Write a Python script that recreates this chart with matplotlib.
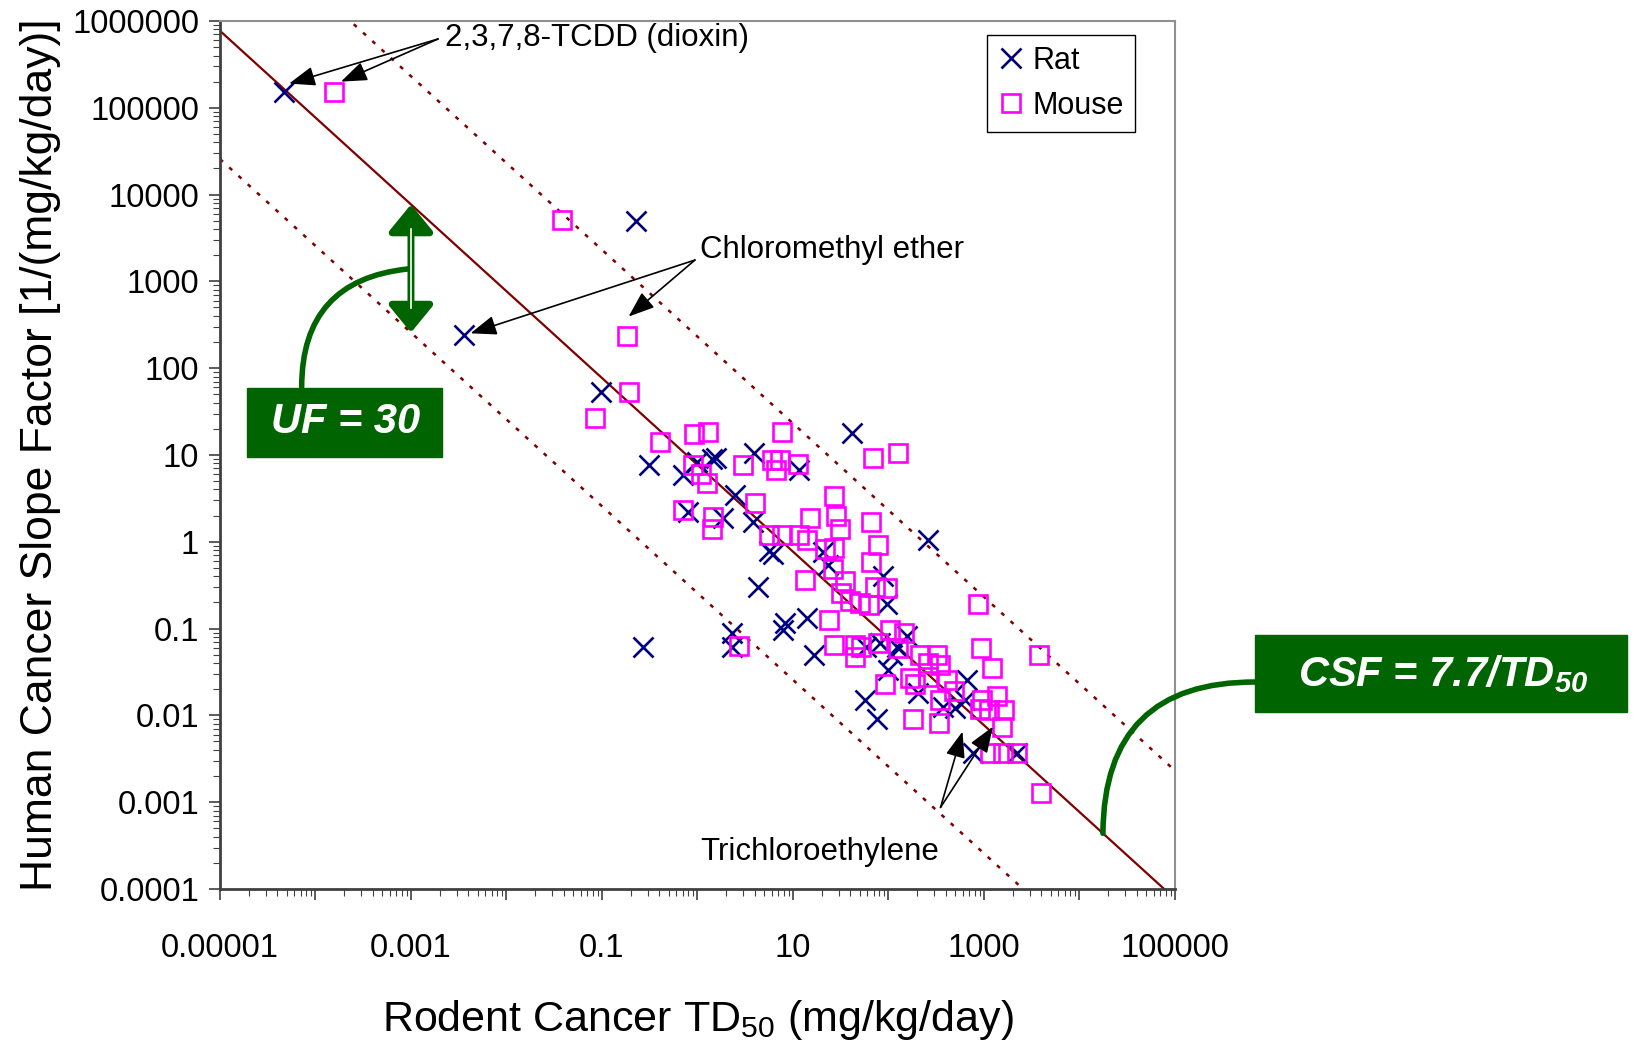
import numpy as np
import matplotlib
matplotlib.use('Agg')
import matplotlib.pyplot as plt
from matplotlib.patches import Rectangle
from matplotlib.ticker import LogLocator, NullFormatter

plt.rcParams['font.family'] = ['Liberation Sans', 'DejaVu Sans']
plt.rcParams['mathtext.fontset'] = 'custom'
plt.rcParams['mathtext.rm'] = 'Liberation Sans:bold:italic'
plt.rcParams['mathtext.sf'] = 'Liberation Sans'

# rodent TD50 (mg/kg/day) and human CSF (1/(mg/kg/day))
rat_td50 = [4.7e-5, 0.227, 0.0036, 0.097, 42, 260, 0.267, 0.313, 0.71, 0.98,
            1.41, 1.58, 3.9, 11.6, 2.5, 0.80, 1.83, 3.8, 5.6, 6.2,
            20.7, 4.3, 8.2, 7.8, 2.3, 2.3, 23.4, 87, 97, 14.1,
            16.6, 57, 75, 58, 81, 108, 155, 122, 100, 205,
            375, 497, 658, 632, 773, 2200]
rat_csf = [1.5e5, 5000, 240, 53, 18, 1.05, 0.062, 7.7, 5.9, 8.2,
           8.9, 9.2, 10.5, 6.7, 3.5, 2.2, 1.9, 1.7, 0.79, 0.72,
           0.77, 0.30, 0.115, 0.096, 0.088, 0.062, 0.54, 0.40, 0.19, 0.131,
           0.050, 0.015, 0.009, 0.062, 0.068, 0.050, 0.081, 0.062, 0.033, 0.018,
           0.0126, 0.012, 0.0255, 0.015, 0.0037, 0.0037]

mouse_td50 = [1.55e-4, 0.038, 0.184, 0.193, 126, 0.0845, 0.405, 0.93, 1.30, 7.7,
              0.90, 1.10, 1.25, 3.0, 6.0, 7.3, 6.7, 11.2, 69, 0.70,
              1.47, 1.41, 4.0, 26.9, 15.1, 28.2, 31, 65, 5.6, 7.6,
              11.6, 14.1, 21.6, 26.9, 78, 2.7, 26.4, 13.3, 35, 31.5,
              39.5, 50, 63, 65, 72, 97, 871, 24, 104, 145,
              26.9, 44.6, 52, 78, 127, 44.6, 929, 3790, 214, 319,
              261, 346, 1220, 168, 189, 261, 406, 92, 485, 346,
              944, 908, 1355, 1620, 1140, 182, 340, 1530, 1160, 1590,
              2200, 3950]
mouse_csf = [1.5e5, 5100, 235, 53, 10.6, 27, 14, 17.3, 18.2, 18.2,
             7.7, 6.0, 4.8, 7.7, 8.8, 8.8, 6.7, 7.9, 9.2, 2.3,
             1.95, 1.39, 2.8, 3.4, 1.9, 2.0, 1.41, 1.7, 1.2, 1.2,
             1.2, 1.05, 0.82, 0.84, 0.92, 0.063, 0.49, 0.36, 0.35, 0.26,
             0.21, 0.195, 0.187, 0.59, 0.30, 0.29, 0.19, 0.126, 0.096, 0.088,
             0.065, 0.065, 0.062, 0.068, 0.059, 0.047, 0.059, 0.050, 0.050, 0.050,
             0.040, 0.038, 0.035, 0.027, 0.023, 0.028, 0.0255, 0.023, 0.0193, 0.015,
             0.015, 0.0117, 0.0167, 0.0115, 0.0115, 0.0091, 0.0081, 0.0074, 0.0037, 0.0037,
             0.0037, 0.00126]

SLOPE = 7.7
UF = 30

x_ticks = [1e-5, 1e-4, 1e-3, 1e-2, 1e-1, 1, 10, 100, 1e3, 1e4, 1e5]
x_labels = ['0.00001', '', '0.001', '', '0.1', '', '10', '', '1000', '', '100000']
y_ticks = [1e-4, 1e-3, 1e-2, 1e-1, 1, 10, 100, 1e3, 1e4, 1e5, 1e6]
y_labels = ['0.0001', '0.001', '0.01', '0.1', '1', '10', '100', '1000', '10000', '100000', '1000000']

green = '#006400'
dark_red = '#800000'

fig = plt.figure(figsize=(16.44, 10.43), dpi=100)
ax = fig.add_axes([0.1338, 0.1477, 0.5809, 0.8322])
ax.set_xscale('log')
ax.set_yscale('log')
ax.set_xlim(1e-5, 1e5)
ax.set_ylim(1e-4, 1e6)

xx = np.logspace(-5, 5, 200)
ax.plot(xx, SLOPE / xx, color=dark_red, lw=1.6, zorder=2)
ax.plot(xx, SLOPE * UF / xx, color=dark_red, lw=1.8, ls=(0, (1.6, 3.4)), zorder=2)
ax.plot(xx, SLOPE / UF / xx, color=dark_red, lw=1.8, ls=(0, (1.6, 3.4)), zorder=2)

ax.plot(rat_td50, rat_csf, ls='none', marker='x', ms=15, mew=1.9, color='#000080',
        label='Rat', zorder=3)
ax.plot(mouse_td50, mouse_csf, ls='none', marker='s', ms=13, mew=1.9, mfc='none',
        mec='#FF00FF', label='Mouse', zorder=3)

ax.set_xticks(x_ticks)
ax.set_xticklabels(x_labels)
ax.set_yticks(y_ticks)
ax.set_yticklabels(y_labels)
for axis in (ax.xaxis, ax.yaxis):
    axis.set_minor_locator(LogLocator(base=10, subs=np.arange(2, 10), numticks=100))
    axis.set_minor_formatter(NullFormatter())
ax.tick_params(axis='both', which='major', labelsize=23.5, length=8, width=1.2, color='#404040')
ax.tick_params(axis='both', which='minor', length=5, width=0.8, color='#404040')
ax.tick_params(axis='x', which='major', pad=24)
ax.tick_params(axis='y', which='major', pad=7)

for side in ('top', 'right'):
    ax.spines[side].set_color('#909090')
    ax.spines[side].set_linewidth(1.5)
for side in ('left', 'bottom'):
    ax.spines[side].set_color('#404040')
    ax.spines[side].set_linewidth(2)

ax.set_xlabel('Rodent Cancer TD$_{\\mathsf{50}}$ (mg/kg/day)', fontsize=31, labelpad=24)
ax.set_ylabel('Human Cancer Slope Factor [1/(mg/kg/day)]', fontsize=32, labelpad=8)

leg = ax.legend(loc='upper right', bbox_to_anchor=(0.958, 0.984), borderaxespad=0,
                fontsize=22, fancybox=False, edgecolor='black', framealpha=1,
                borderpad=0.35, handlelength=0.9, handletextpad=0.25, labelspacing=0.5)
leg.get_frame().set_linewidth(1)

arrow = dict(arrowstyle='-|>,head_length=0.8,head_width=0.3', color='black', lw=1.2,
             mutation_scale=20, shrinkA=0, shrinkB=0)

# dioxin
ax.text(2.25e-3, 6.4e5, '2,3,7,8-TCDD (dioxin)', fontsize=22.5, va='center')
ax.annotate('', xy=(5.3e-5, 1.9e5), xytext=(1.92e-3, 6.2e5), arrowprops=arrow)
ax.annotate('', xy=(1.85e-4, 2.0e5), xytext=(1.92e-3, 6.2e5), arrowprops=arrow)

# chloromethyl ether
ax.text(1.07, 2270, 'Chloromethyl ether', fontsize=22.5, va='center')
ax.annotate('', xy=(4.2e-3, 252), xytext=(0.94, 1760), arrowprops=arrow)
ax.annotate('', xy=(0.19, 393), xytext=(0.94, 1760), arrowprops=arrow)

# trichloroethylene
ax.annotate('', xy=(596, 0.0065), xytext=(351, 8.7e-4), arrowprops=arrow)
ax.annotate('', xy=(1240, 0.0074), xytext=(351, 8.7e-4), arrowprops=arrow)
ax.text(1.07, 2.7e-4, 'Trichloroethylene', fontsize=22.5, va='center')

# UF double arrow between the fit line and the lower dotted line
x_uf = 1e-3
ax.annotate('', xy=(x_uf, SLOPE / UF / x_uf), xytext=(x_uf, SLOPE / x_uf),
            arrowprops=dict(arrowstyle='<|-|>,head_length=0.55,head_width=0.45',
                            mutation_scale=30, color=green, lw=5, shrinkA=0, shrinkB=0),
            zorder=4)
ax.plot([x_uf, x_uf], [SLOPE / x_uf / 1.9, SLOPE / UF / x_uf * 1.9], color='white',
        lw=1.2, zorder=5)

# boxes
fig.add_artist(Rectangle((0.1505, 0.5618), 0.1186, 0.0662, transform=fig.transFigure,
                         color=green, zorder=5))
fig.text(0.2099, 0.5951, 'UF = 30', fontsize=30, fontweight='bold', fontstyle='italic',
         color='white', ha='center', va='center', zorder=6)
fig.add_artist(Rectangle((0.7634, 0.3174), 0.2264, 0.0734, transform=fig.transFigure,
                         color=green, zorder=5))
fig.text(0.8775, 0.3535, 'CSF = 7.7/TD$_{50}$', fontsize=30, fontweight='bold',
         fontstyle='italic', color='white', ha='center', va='center', zorder=6)

# curved connectors
ax.annotate('', xy=(9.3e-4, 1390), xytext=(0.1835, 0.629), textcoords='figure fraction',
            arrowprops=dict(arrowstyle='-', color=green, lw=4, shrinkA=0, shrinkB=0,
                            connectionstyle='arc3,rad=-0.45'))
ax.annotate('', xy=(1.76e4, SLOPE / 1.76e4), xytext=(0.7640, 0.3461),
            textcoords='figure fraction', annotation_clip=False,
            arrowprops=dict(arrowstyle='-', color=green, lw=4, shrinkA=0, shrinkB=0,
                            connectionstyle='arc3,rad=0.5'))

fig.savefig('out.png', dpi=100)
